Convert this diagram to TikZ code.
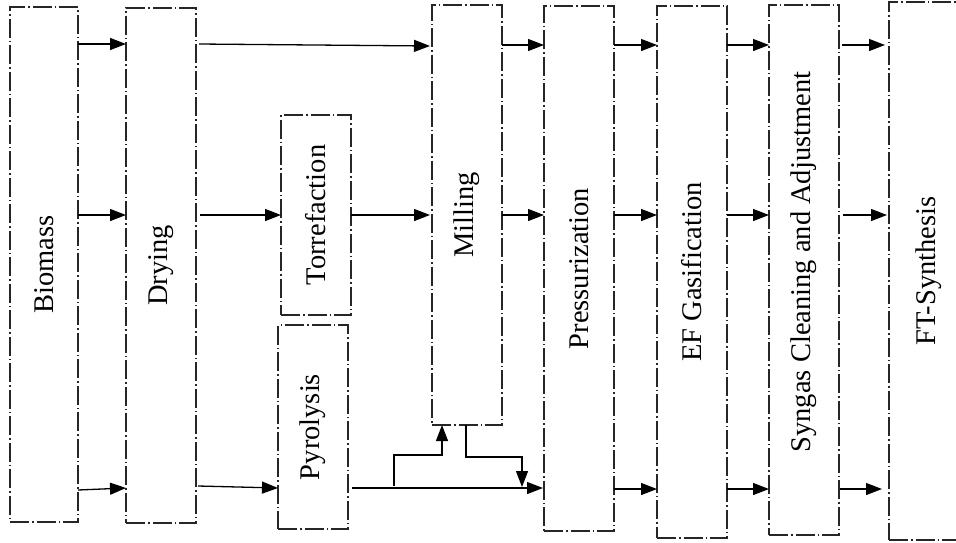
\documentclass[tikz,border=0pt]{standalone}
\usepackage{fontspec}
\setmainfont{Liberation Serif}
\usetikzlibrary{arrows.meta}
\tikzset{
  stage/.style={draw=black!85, line width=1.3pt,
    dash pattern=on 19pt off 3pt on 1.5pt off 3pt,
    inner sep=0pt, outer sep=0pt, rectangle,
    font=\fontsize{28.5}{30}\selectfont},
  arr/.style={draw=black, line width=1.3pt, -{Triangle[length=16pt,width=12pt]}},
  ln/.style={draw=black, line width=1.3pt}
}
\begin{document}
\begin{tikzpicture}[x=1pt,y=-1pt]
\useasboundingbox (0,0) rectangle (956,542);
% stages
\node[stage, minimum width=68pt, minimum height=515pt] (bio) at (44,264.5) {\rotatebox{90}{Biomass}};
\node[stage, minimum width=70pt, minimum height=515pt] (dry) at (161,265.5) {\rotatebox{90}{Drying}};
\node[stage, minimum width=70pt, minimum height=200pt] (tor) at (316,215) {\rotatebox{90}{Torrefaction}};
\node[stage, minimum width=70pt, minimum height=204pt] (pyr) at (313,427) {\rotatebox{90}{Pyrolysis}};
\node[stage, minimum width=70pt, minimum height=420pt] (mil) at (467,215) {\rotatebox{90}{Milling}};
\node[stage, minimum width=70pt, minimum height=525pt] (pre) at (579,268.5) {\rotatebox{90}{Pressurization}};
\node[stage, minimum width=70pt, minimum height=532pt] (gas) at (692,272) {\rotatebox{90}{EF Gasification}};
\node[stage, minimum width=70pt, minimum height=530pt] (syn) at (804,270) {\raisebox{0pt}{\rotatebox{90}{\hspace{16pt}Syngas Cleaning and Adjustment}}};
\node[stage, minimum width=80pt, minimum height=538pt] (ft) at (929,271) {\rotatebox{90}{FT-Synthesis}\hspace{10pt}};
% top row
\draw[arr] (bio.east |- 0,44) -- (dry.west |- 0,44);
\draw[arr] ([xshift=3pt]dry.east |- 0,44) -- ([xshift=-2pt]mil.west |- 0,46);
\draw[arr] (mil.east |- 0,45) -- (pre.west |- 0,45);
\draw[arr] (pre.east |- 0,45) -- (gas.west |- 0,45);
\draw[arr] (gas.east |- 0,45) -- (syn.west |- 0,45);
\draw[arr] ([xshift=3pt]syn.east |- 0,45) -- ([xshift=-4pt]ft.west |- 0,45);
% middle row
\draw[arr] (bio.east |- 0,215) -- (dry.west |- 0,215);
\draw[arr] ([xshift=4pt]dry.east |- 0,215) -- (tor.west |- 0,215);
\draw[arr] (tor.east |- 0,215) -- ([xshift=-2pt]mil.west |- 0,215);
\draw[arr] (mil.east |- 0,215) -- (pre.west |- 0,215);
\draw[arr] (pre.east |- 0,215) -- (gas.west |- 0,215);
\draw[arr] (gas.east |- 0,215) -- (syn.west |- 0,215);
\draw[arr] ([xshift=4pt]syn.east |- 0,215) -- ([xshift=-2pt]ft.west |- 0,215);
% bottom row
\draw[arr] (bio.east |- 0,490) -- (dry.west |- 0,488);
\draw[arr] ([xshift=2pt]dry.east |- 0,486) -- (pyr.west |- 0,488);
\draw[arr] ([xshift=4pt]pyr.east |- 0,488) -- ([xshift=-1pt]pre.west |- 0,488);
\draw[arr] (pre.east |- 0,489) -- (gas.west |- 0,489);
\draw[arr] (gas.east |- 0,489) -- (syn.west |- 0,489);
\draw[arr] ([xshift=1pt]syn.east |- 0,489) -- ([xshift=-7pt]ft.west |- 0,489);
% branches around milling
\coordinate (b1) at (394,486);
\coordinate (b2) at (522,487);
\draw[arr] (b1) |- (442,455) -- (mil.south -| 442,0);
\draw[arr] (mil.south -| 466,0) |- (500,457) -| (b2);
\end{tikzpicture}
\end{document}
